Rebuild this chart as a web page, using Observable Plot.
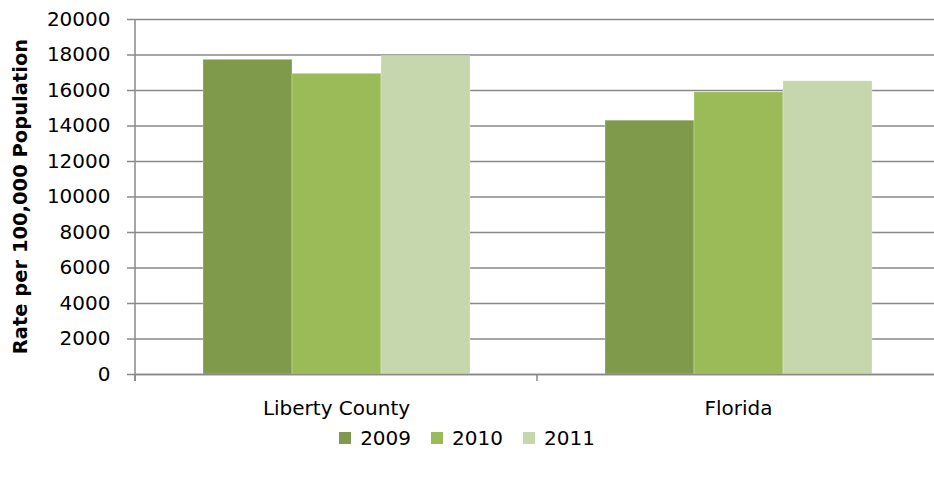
<!DOCTYPE html>
<html>
<head>
<meta charset="utf-8">
<script src="https://cdn.jsdelivr.net/npm/d3@7"></script>
<script src="https://cdn.jsdelivr.net/npm/@observablehq/plot@0.6"></script>
<style>
  body { margin: 0; background: #fff; font-family: "DejaVu Sans", sans-serif; }
  #chart svg { display: block; overflow: hidden; }
  #legend { display: flex; justify-content: center; align-items: center; height: 36px; font-size: 20px; color: #000; padding-left: 0; }
  #legend .item { display: flex; align-items: center; margin: 0 10px; }
  #legend .sw { width: 12px; height: 12px; margin-right: 9px; }
</style>
</head>
<body>
<div id="chart"></div>
<div id="legend"></div>
<script>
const categories = ["Liberty County", "Florida"];
const years = ["2009", "2010", "2011"];
const libertyCounty = [17730, 16940, 17930];
const florida = [14300, 15900, 16520];
const yTicks = [0, 2000, 4000, 6000, 8000, 10000, 12000, 14000, 16000, 18000, 20000];
const yearColors = ["#7f9a4a", "#9bbb59", "#c6d6ad"];
const yLabel = "Rate per 100,000 Population";

const seriesByCategory = [libertyCounty, florida];
const data = [];
categories.forEach((c, ci) => years.forEach((yr, yi) => data.push({category: c, year: yr, value: seriesByCategory[ci][yi]})));

const grey = "#898989";

const plot = Plot.plot({
  width: 934,
  height: 420,
  marginLeft: 135,
  marginRight: -5,
  marginTop: 19,
  marginBottom: 46,
  style: {fontFamily: "DejaVu Sans", fontSize: "20px", color: "#000", background: "#fff"},
  fx: {domain: categories, padding: 0, label: null},
  x: {domain: years, paddingInner: 0, paddingOuter: 0.75, axis: null},
  y: {domain: [0, 20000]},
  color: {domain: years, range: yearColors},
  marks: [
    Plot.gridY(yTicks, {stroke: grey, strokeOpacity: 1, strokeWidth: 1.5}),
    Plot.barY(data, {fx: "category", x: "year", y: "value", fill: "year", stroke: "#fff", strokeOpacity: 0.35, strokeWidth: 0.8}),
    Plot.ruleY([0], {stroke: grey, strokeWidth: 1.5}),
    Plot.axisY(yTicks, {anchor: "left", tickSize: 8, tickPadding: 17, stroke: grey, strokeWidth: 1.5,
      tickFormat: d => String(d), label: null}),
    Plot.axisFx({anchor: "bottom", tickSize: 0, tickPadding: 26, label: null})
  ]
});

document.getElementById("chart").appendChild(plot);

// Axis line, category boundary ticks and y title from the plot's own scales
const fx = plot.scale("fx");
const ys = plot.scale("y");
const y0 = ys.apply(0), yTop = ys.apply(20000);
const edges = categories.map(c => fx.apply(c)).concat([fx.apply(categories[categories.length - 1]) + fx.bandwidth]);
const svg = d3.select(plot);
const g = svg.append("g").attr("stroke", grey).attr("stroke-width", 1.5);
g.append("line").attr("x1", edges[0]).attr("x2", edges[0]).attr("y1", yTop).attr("y2", y0 + 7);
edges.forEach(e => g.append("line").attr("x1", e).attr("x2", e).attr("y1", y0).attr("y2", y0 + 7));

svg.append("text")
  .attr("transform", `translate(${edges[0] - 115},${(y0 + yTop) / 2}) rotate(-90)`)
  .attr("text-anchor", "middle")
  .attr("dominant-baseline", "central")
  .attr("font-family", "DejaVu Sans")
  .attr("font-size", 19.5)
  .attr("font-weight", "bold")
  .attr("fill", "#000")
  .text(yLabel);

// Legend
const legend = d3.select("#legend");
years.forEach((yr, i) => {
  const item = legend.append("div").attr("class", "item");
  item.append("div").attr("class", "sw").style("background", yearColors[i]);
  item.append("span").text(yr);
});
</script>
</body>
</html>
